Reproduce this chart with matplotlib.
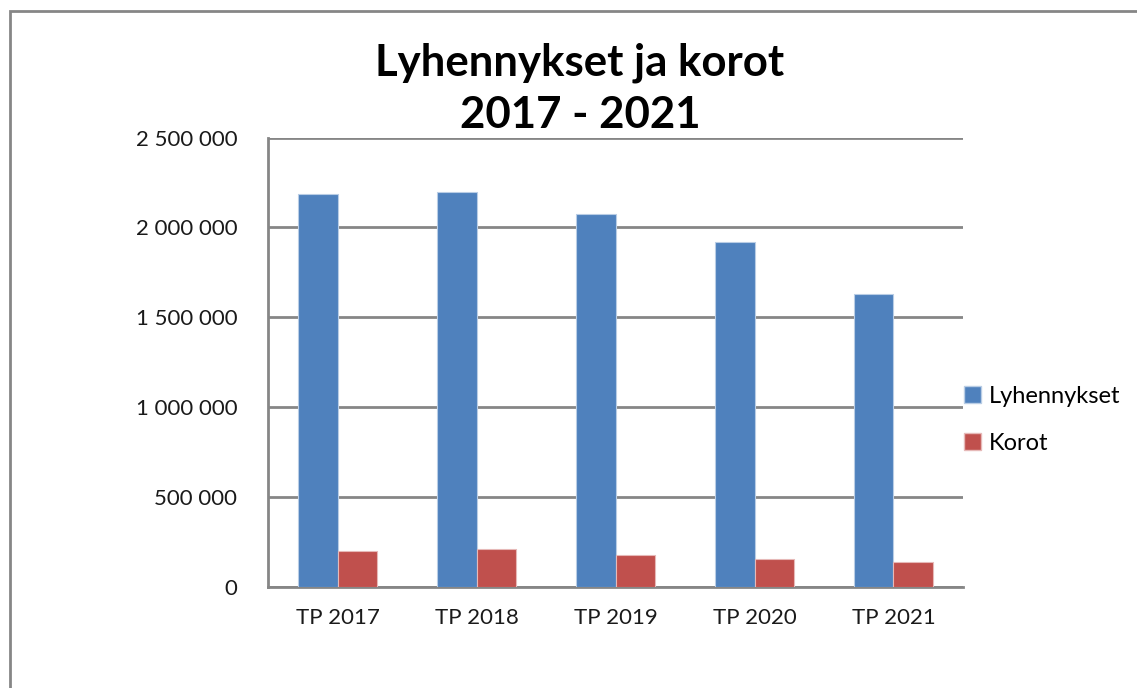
import matplotlib
matplotlib.use("Agg")
import matplotlib.pyplot as plt
from matplotlib.patches import Patch, Rectangle
import numpy as np

categories = ["TP 2017", "TP 2018", "TP 2019", "TP 2020", "TP 2021"]
lyhennykset = [2184000, 2196000, 2073000, 1918000, 1627000]
korot = [197000, 210000, 176000, 156000, 136000]
yticks = [0, 500000, 1000000, 1500000, 2000000, 2500000]

blue = "#4F81BD"
red = "#C0504D"
grid = "#868686"

plt.rcParams["font.family"] = ["Lato", "DejaVu Sans"]

fig = plt.figure(figsize=(11.37, 6.88), dpi=100)
ax = fig.add_axes([268/1137, 1-586.7/688, (963-268)/1137, (586.7-137.5)/688])

x = np.arange(len(categories))
w = 0.283
ax.bar(x - w/2, lyhennykset, w, color=blue, edgecolor="#B9CDE5", linewidth=0.8, zorder=3)
ax.bar(x + w/2, korot, w, color=red, edgecolor="#E6B9B8", linewidth=0.8, zorder=3)

ax.set_xlim(-0.5, len(categories) - 0.5)
ax.set_ylim(0, 2500000)
ax.set_yticks(yticks)
ax.set_yticklabels([f"{v:,}".replace(",", " ") for v in yticks], fontsize=16, color="#1a1a1a")
ax.set_xticks(x)
ax.set_xticklabels(categories, fontsize=16, color="#1a1a1a")
ax.tick_params(axis="both", length=0)
ax.tick_params(axis="y", pad=22)
ax.tick_params(axis="x", pad=15)
ax.yaxis.grid(True, color=grid, linewidth=2, zorder=0)
for s in ["top", "right"]:
    ax.spines[s].set_visible(False)
ax.spines["left"].set_color(grid)
ax.spines["left"].set_linewidth(2)
ax.spines["bottom"].set_color(grid)
ax.spines["bottom"].set_linewidth(2)

fig.text(580/1137, 1-89/688, "Lyhennykset ja korot\n2017 - 2021", ha="center", va="center",
         fontsize=31.5, fontweight="bold", linespacing=1.35)

handles = [Patch(facecolor=blue, edgecolor="#B9CDE5"), Patch(facecolor=red, edgecolor="#E6B9B8")]
fig.legend(handles, ["Lyhennykset", "Korot"], loc="center left",
           bbox_to_anchor=(943/1137, 1-420/688), frameon=False, fontsize=17,
           handlelength=0.7, handleheight=0.7, handletextpad=0.35, labelspacing=1.1)

top = 1 - 11/688
fig.patches.append(Rectangle((9.5/1137, -0.2), 1.2, top + 0.2, transform=fig.transFigure,
                             fill=False, edgecolor=grid, linewidth=2, clip_on=False))

fig.savefig("out.png", dpi=100)
